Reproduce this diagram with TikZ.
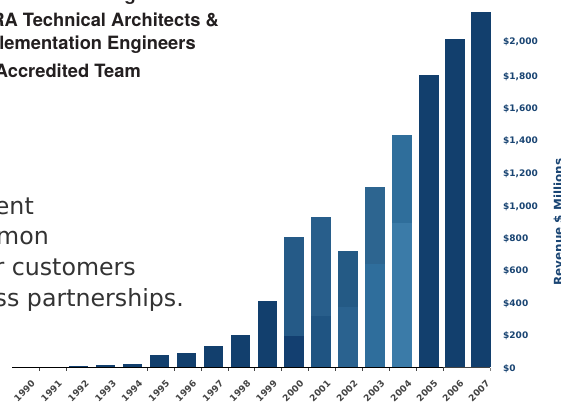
\documentclass[tikz,border=0pt]{standalone}
\usepackage{fontspec}
\setmainfont{DejaVu Sans}
\newfontfamily\heros{TeX Gyre Heros}
\definecolor{navy}{HTML}{123F6D}
\definecolor{axlabel}{HTML}{1A4573}
\definecolor{yearcol}{HTML}{444444}
\definecolor{bodycol}{HTML}{333333}
\definecolor{titlecol}{HTML}{231F20}
\tikzset{
  titletext/.style={anchor=base east,inner sep=0pt,text=titlecol,font=\heros\bfseries\fontsize{18.3}{20}\selectfont},
  bodytext/.style={anchor=base east,inner sep=0pt,text=bodycol,font=\fontsize{23.7}{28}\selectfont},
  yeartext/.style={rotate=45,inner sep=0pt,text=yearcol,font=\bfseries\fontsize{9}{10}\selectfont},
  valtext/.style={anchor=base west,inner sep=0pt,text=axlabel,font=\bfseries\fontsize{9}{10}\selectfont},
  axistitle/.style={rotate=90,anchor=base,inner sep=0pt,text=axlabel,font=\bfseries\fontsize{11.9}{13}\selectfont}
}
\begin{document}
\begin{tikzpicture}[x=1pt,y=-1pt]
\useasboundingbox (0,0) rectangle (561,403);
\clip (0,0) rectangle (561,403);
\fill[white] (0,0) rectangle (561,403);
% single-colour bars: left, right, top
\foreach \l/\r/\t in {69/88/366,96/115/365,123/142/364,150/169/355,177/196/353,204/223/346,231/250/335,258/277/301,419/439/75,445/465/39,471/491/12}
  \fill[navy] (\l,\t) rectangle (\r,367);
% two-tone bars: left, right, top, split, upper, lower
\foreach \l/\r/\t/\s/\u/\d in {284/304/237/336/255A87/133F70,311/331/217/316/285E8B/1F5482,338/358/251/307/245A85/2A628F,365/385/187/264/2D6590/2F6E9C,392/412/135/223/2F6E9B/3B7BA8}{
  \definecolor{upc}{HTML}{\u}\definecolor{loc}{HTML}{\d}
  \fill[upc] (\l,\t) rectangle (\r,\s);
  \fill[loc] (\l,\s) rectangle (\r,367);
}
% axis
\draw[black,line width=0.8pt] (12,367.5) -- (443,367.5);
\draw[yearcol,line width=0.8pt] (443,367.5) -- (490,367.5);
\foreach \x in {39,66,147,174,201,228,254.5,281,308,335,362,389,416,443}
  \draw[yearcol,line width=0.8pt] (\x,367.5) -- (\x,371);
\draw[gray,line width=0.8pt] (490,367.5) -- (490,371);
% years
\foreach \x/\yr in {24.5/1990,51.5/1991,78.5/1992,105.5/1993,132/1994,159/1995,186/1996,213/1997,240/1998,266.5/1999,293/2000,320/2001,347/2002,374/2003,401/2004,427/2005,453/2006,479/2007}
  \node[yeartext] (y\yr) at (\x,391) {\yr};
% values
\foreach \y/\v in {371.3/\$0,338.3/\$200,306.3/\$400,273.8/\$600,241.3/\$800,209.3/\$1{,}000,176.3/\$1{,}200,143.8/\$1{,}400,111.3/\$1{,}600,79.3/\$1{,}800,44.3/\$2{,}000}
  \node[valtext] at (503,\y) {\v};
\node[axistitle] (rev) at (562.5,222) {Revenue \$ Millions};
% clipped text
\node[titletext] (t0) at (136,1) {g};
\node[titletext] (t1) at (219,27) {RA Technical Architects \&};
\node[titletext] (t2) at (196,50) {lementation Engineers};
\node[titletext] (t3) at (141,78) {Accredited Team};
\node[bodytext] (b1) at (34,214) {ent};
\node[bodytext] (b2) at (49,244) {mon};
\node[bodytext] (b3) at (136,275) {r customers};
\node[bodytext] (b4) at (184,306) {ss partnerships.};
\end{tikzpicture}
\end{document}
